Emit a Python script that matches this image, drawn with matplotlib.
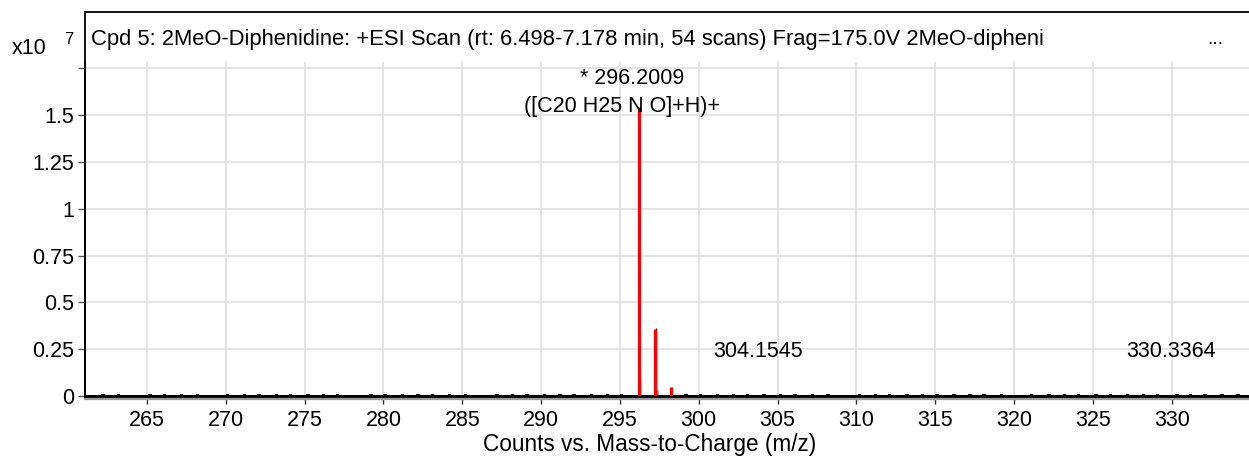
import matplotlib.pyplot as plt
from matplotlib.lines import Line2D

plt.rcParams['font.family'] = ['Liberation Sans', 'DejaVu Sans']

# centroid peaks (red) and their labels
peak_mz = [296.2009, 297.2040, 298.2070]
peak_counts = [1.545e7, 0.355e7, 0.05e7]

# profile traces drawn in black / grey behind the centroids
profile_mz = [296.30, 297.26]
profile_counts = [0.09e7, 0.365e7]
shoulder_mz = [297.33]
shoulder_counts = [0.03e7]

# baseline noise
noise_mz = [262.2, 263.2, 264.1, 265.2, 266.1, 267.2, 268.2, 269.2, 270.1, 271.2,
            272.1, 273.2, 274.1, 275.2, 276.2, 277.1, 278.2, 279.2, 280.1, 281.2,
            282.2, 283.1, 284.2, 285.2, 286.1, 287.2, 288.2, 289.1, 290.2, 291.2,
            292.1, 293.2, 294.2, 295.1, 299.2, 300.1, 301.2, 302.2, 303.1, 304.15,
            305.2, 306.1, 307.2, 308.2, 309.1, 310.2, 311.2, 312.1, 313.2, 314.2,
            315.1, 316.2, 317.2, 318.1, 319.2, 320.2, 321.1, 322.2, 323.2, 324.1,
            325.2, 326.1, 327.2, 328.2, 329.1, 330.34, 331.2, 332.1, 333.2, 334.2]
noise_counts = [0.9e5, 1.1e5, 0.8e5, 1.2e5, 0.9e5, 1.0e5, 1.1e5, 0.8e5, 1.2e5, 1.0e5,
                0.9e5, 1.1e5, 1.0e5, 1.2e5, 0.9e5, 1.0e5, 0.8e5, 1.1e5, 1.0e5, 0.9e5,
                1.2e5, 1.0e5, 0.9e5, 1.1e5, 0.8e5, 1.0e5, 1.2e5, 0.9e5, 1.0e5, 1.1e5,
                0.9e5, 1.0e5, 1.3e5, 0.9e5, 1.0e5, 0.9e5, 1.1e5, 1.0e5, 0.9e5, 1.2e5,
                1.0e5, 0.9e5, 1.1e5, 1.0e5, 0.8e5, 1.1e5, 0.9e5, 1.0e5, 1.2e5, 0.9e5,
                1.0e5, 1.1e5, 0.9e5, 1.0e5, 1.1e5, 0.8e5, 1.0e5, 1.2e5, 0.9e5, 1.0e5,
                1.1e5, 0.9e5, 1.0e5, 1.1e5, 0.9e5, 1.2e5, 1.0e5, 0.9e5, 1.1e5, 1.0e5]

labels = [("* 296.2009", 295.76, 1.695e7),
          ("([C20 H25 N O]+H)+", 295.15, 1.545e7),
          ("304.1545", 303.77, 0.24e7),
          ("330.3364", 329.93, 0.24e7)]

title = ("Cpd 5: 2MeO-Diphenidine: +ESI Scan (rt: 6.498-7.178 min, 54 scans) "
         "Frag=175.0V 2MeO-dipheni")

W, H = 1249, 459
fig = plt.figure(figsize=(W / 100, H / 100), dpi=100)

x0, xb, yt, yp = 85, 396, 12, 62
# outer frame with the title strip
frame = fig.add_axes([x0 / W, 1 - xb / H, 1 - x0 / W, (xb - yt) / H])
frame.set_xticks([])
frame.set_yticks([])
for s in ('right', 'bottom'):
    frame.spines[s].set_visible(False)
for s in ('top', 'left'):
    frame.spines[s].set_linewidth(1.3)
fig.text(91 / W, 1 - 39 / H, title, fontsize=15.8, ha='left', va='center')
fig.text(1207 / W, 1 - 40 / H, "...", fontsize=14, ha='left', va='center')

ax = fig.add_axes([x0 / W, 1 - xb / H, 1 - x0 / W, (xb - yp) / H])
ax.patch.set_alpha(0)
ax.set_xlim(261.07, 334.9)
ax.set_ylim(0, 1.783e7)
for s in ('top', 'right'):
    ax.spines[s].set_visible(False)
ax.spines['left'].set_linewidth(1.3)
ax.spines['bottom'].set_linewidth(2.2)

xt = list(range(265, 335, 5))
ax.set_xticks(xt)
ax.set_xticklabels([str(v) for v in xt], fontsize=15.5)
yt_vals = [0, 0.25e7, 0.5e7, 0.75e7, 1.0e7, 1.25e7, 1.5e7, 1.75e7]
ax.set_yticks(yt_vals)
ax.set_yticklabels(['0', '0.25', '0.5', '0.75', '1', '1.25', '1.5', ''], fontsize=15.5)
ax.tick_params(axis='x', length=6, width=1, color='#333333', pad=4)
ax.tick_params(axis='y', length=5, width=1, color='#555555', pad=3)
ax.grid(True, color='#e2e2e2', linewidth=1.3)
ax.set_axisbelow(True)

ax.bar(noise_mz, noise_counts, width=0.22, color='black', zorder=2)
ax.vlines(shoulder_mz, 0, shoulder_counts, color='#999999', linewidth=2, zorder=2)
ax.vlines(profile_mz, 0, profile_counts, color='black', linewidth=1, zorder=2)
ax.vlines(peak_mz, 0, peak_counts, color='#ff0000', linewidth=2.3, zorder=3)

for txt, mz, y in labels:
    ax.text(mz, y, txt, fontsize=15.5, ha='center', va='center', zorder=4)

# grey shadow under the baseline
fig.add_artist(Line2D([x0 / W, 1], [1 - 398.5 / H] * 2, color='#9a9a9a', linewidth=1.6))

fig.text(12 / W, 1 - 48 / H, "x10", fontsize=15.5, ha='left', va='center')
fig.text(64 / W, 1 - 39 / H, "7", fontsize=12, ha='left', va='center')
fig.text(650 / W, 1 - 445 / H, "Counts vs. Mass-to-Charge (m/z)", fontsize=16.3,
         ha='center', va='center')

fig.savefig('out.png', dpi=100)
